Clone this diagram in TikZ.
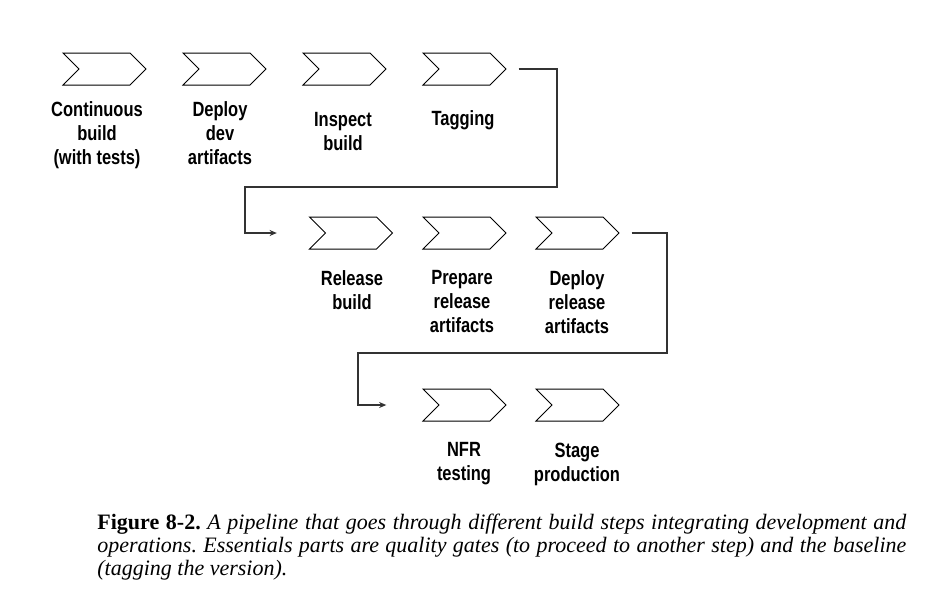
\documentclass[tikz,border=0pt]{standalone}
\usepackage{fontspec}
\setmainfont{Liberation Serif}
\newfontfamily\steplabelfont[FakeStretch=0.8]{Liberation Sans}
\usetikzlibrary{shapes.symbols}
\usetikzlibrary{arrows.meta}

\tikzset{
  stepshape/.style={draw=black, line width=0.5pt, signal, signal from=west, signal to=east,
    signal pointer angle=90, minimum width=41.5pt, minimum height=16pt, inner sep=0pt},
  steplabel/.style={font=\steplabelfont\bfseries\fontsize{10.3pt}{12pt}\selectfont, align=center, inner sep=0pt},
  link/.style={draw=black!80, line width=0.6pt},
  linkarrow/.style={link, -{Stealth[length=3.6pt,width=3pt]}}
}

\begin{document}
\begin{tikzpicture}[x=0.5pt,y=-0.5pt]
\useasboundingbox (0,0) rectangle (929,600);

% first row
\node [stepshape] (contbuild) at (104.5,69) {};
\node [stepshape] (deploydev) at (224.5,69) {};
\node [stepshape] (inspect)   at (344.5,69) {};
\node [stepshape] (tagging)   at (464.5,69) {};
\node [steplabel] (contbuildtxt) at (97,135)  {Continuous\\build\\(with tests)};
\node [steplabel] (deploydevtxt) at (220,133) {Deploy\\dev\\artifacts};
\node [steplabel] (inspecttxt)   at (343,132) {Inspect\\build};
\node [steplabel] (taggingtxt)   at (463,120) {Tagging};

% second row
\node [stepshape] (release)    at (351,233) {};
\node [stepshape] (prepare)    at (464.5,233) {};
\node [stepshape] (deployrel)  at (577.5,233) {};
\node [steplabel] (releasetxt)   at (352,290) {Release\\build};
\node [steplabel] (preparetxt)   at (462,302) {Prepare\\release\\artifacts};
\node [steplabel] (deployreltxt) at (577,302) {Deploy\\release\\artifacts};

% third row
\node [stepshape] (nfr)   at (464.5,405) {};
\node [stepshape] (stage) at (577.5,405) {};
\node [steplabel] (nfrtxt)   at (464,464) {NFR\\testing};
\node [steplabel] (stagetxt) at (577,464) {Stage\\production};

% connectors between rows
\coordinate (turnAr) at (557,187);
\coordinate (turnAl) at (245,187);
\coordinate (turnBr) at (667,353);
\coordinate (turnBl) at (358,353);
\draw [linkarrow] ([xshift=6]tagging.east) -| (turnAr) -- (turnAl) |- ([xshift=-24]release.west);
\draw [linkarrow] ([xshift=6]deployrel.east) -| (turnBr) -- (turnBl) |- ([xshift=-26]nfr.west);

% caption
\node [anchor=north west, inner sep=0pt, text width=404.5pt, align=justify,
  font=\frenchspacing\fontsize{11pt}{11.4pt}\selectfont] (caption) at (97,514)
  {\textbf{Figure 8-2.} \textit{A pipeline that goes through different build steps integrating development and\linebreak
  operations. Essentials parts are quality gates (to proceed to another step) and the baseline\linebreak
  (tagging the version).}};
\end{tikzpicture}
\end{document}
